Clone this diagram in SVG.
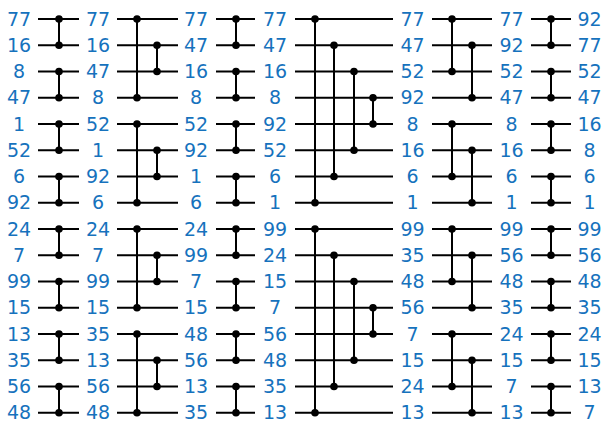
<svg xmlns="http://www.w3.org/2000/svg" xmlns:xlink="http://www.w3.org/1999/xlink" width="605" height="424" viewBox="0 0 605 424">
<style>
.w{stroke:#000;stroke-width:2;fill:none}
.c{stroke:#000;stroke-width:2}
.t{font-family:"DejaVu Sans",Verdana,sans-serif;font-size:19px;fill:#1672bd;text-anchor:middle}
</style>
<defs><circle id="d" r="3.8" fill="#000"/></defs>
<rect width="605" height="424" fill="#fff"/>
<g id="wires" class="w">
<path d="M38 19H79M38 45.25H79M38 71.5H79M38 97.75H79M38 124H79M38 150.25H79M38 176.5H79M38 202.75H79M38 229H79M38 255.25H79M38 281.5H79M38 307.75H79M38 334H79M38 360.25H79M38 386.5H79M38 412.75H79"/>
<path d="M117 19H178M117 45.25H178M117 71.5H178M117 97.75H178M117 124H178M117 150.25H178M117 176.5H178M117 202.75H178M117 229H178M117 255.25H178M117 281.5H178M117 307.75H178M117 334H178M117 360.25H178M117 386.5H178M117 412.75H178"/>
<path d="M216 19H255M216 45.25H255M216 71.5H255M216 97.75H255M216 124H255M216 150.25H255M216 176.5H255M216 202.75H255M216 229H255M216 255.25H255M216 281.5H255M216 307.75H255M216 334H255M216 360.25H255M216 386.5H255M216 412.75H255"/>
<path d="M295 19H393M295 45.25H393M295 71.5H393M295 97.75H393M295 124H393M295 150.25H393M295 176.5H393M295 202.75H393M295 229H393M295 255.25H393M295 281.5H393M295 307.75H393M295 334H393M295 360.25H393M295 386.5H393M295 412.75H393"/>
<path d="M432 19H492M432 45.25H492M432 71.5H492M432 97.75H492M432 124H492M432 150.25H492M432 176.5H492M432 202.75H492M432 229H492M432 255.25H492M432 281.5H492M432 307.75H492M432 334H492M432 360.25H492M432 386.5H492M432 412.75H492"/>
<path d="M531 19H571M531 45.25H571M531 71.5H571M531 97.75H571M531 124H571M531 150.25H571M531 176.5H571M531 202.75H571M531 229H571M531 255.25H571M531 281.5H571M531 307.75H571M531 334H571M531 360.25H571M531 386.5H571M531 412.75H571"/>
</g>
<g id="comparators" class="c">
<path d="M59 19V45.25M59 71.5V97.75M59 124V150.25M59 176.5V202.75M59 229V255.25M59 281.5V307.75M59 334V360.25M59 386.5V412.75"/>
<path d="M137 19V97.75M137 124V202.75M137 229V307.75M137 334V412.75M157 45.25V71.5M157 150.25V176.5M157 255.25V281.5M157 360.25V386.5"/>
<path d="M236 19V45.25M236 71.5V97.75M236 124V150.25M236 176.5V202.75M236 229V255.25M236 281.5V307.75M236 334V360.25M236 386.5V412.75"/>
<path d="M315 19V202.75M315 229V412.75M334 45.25V176.5M334 255.25V386.5M354 71.5V150.25M354 281.5V360.25M373 97.75V124M373 307.75V334"/>
<path d="M452 19V71.5M452 124V176.5M452 229V281.5M452 334V386.5M472 45.25V97.75M472 150.25V202.75M472 255.25V307.75M472 360.25V412.75"/>
<path d="M551 19V45.25M551 71.5V97.75M551 124V150.25M551 176.5V202.75M551 229V255.25M551 281.5V307.75M551 334V360.25M551 386.5V412.75"/>
</g>
<g id="dots">
<g id="s1"><use href="#d" x="59" y="19"/><use href="#d" x="59" y="45.25"/><use href="#d" x="59" y="71.5"/><use href="#d" x="59" y="97.75"/><use href="#d" x="59" y="124"/><use href="#d" x="59" y="150.25"/><use href="#d" x="59" y="176.5"/><use href="#d" x="59" y="202.75"/><use href="#d" x="59" y="229"/><use href="#d" x="59" y="255.25"/><use href="#d" x="59" y="281.5"/><use href="#d" x="59" y="307.75"/><use href="#d" x="59" y="334"/><use href="#d" x="59" y="360.25"/><use href="#d" x="59" y="386.5"/><use href="#d" x="59" y="412.75"/></g>
<g id="s2"><use href="#d" x="137" y="19"/><use href="#d" x="137" y="97.75"/><use href="#d" x="137" y="124"/><use href="#d" x="137" y="202.75"/><use href="#d" x="137" y="229"/><use href="#d" x="137" y="307.75"/><use href="#d" x="137" y="334"/><use href="#d" x="137" y="412.75"/><use href="#d" x="157" y="45.25"/><use href="#d" x="157" y="71.5"/><use href="#d" x="157" y="150.25"/><use href="#d" x="157" y="176.5"/><use href="#d" x="157" y="255.25"/><use href="#d" x="157" y="281.5"/><use href="#d" x="157" y="360.25"/><use href="#d" x="157" y="386.5"/></g>
<g id="s3"><use href="#d" x="236" y="19"/><use href="#d" x="236" y="45.25"/><use href="#d" x="236" y="71.5"/><use href="#d" x="236" y="97.75"/><use href="#d" x="236" y="124"/><use href="#d" x="236" y="150.25"/><use href="#d" x="236" y="176.5"/><use href="#d" x="236" y="202.75"/><use href="#d" x="236" y="229"/><use href="#d" x="236" y="255.25"/><use href="#d" x="236" y="281.5"/><use href="#d" x="236" y="307.75"/><use href="#d" x="236" y="334"/><use href="#d" x="236" y="360.25"/><use href="#d" x="236" y="386.5"/><use href="#d" x="236" y="412.75"/></g>
<g id="s4"><use href="#d" x="315" y="19"/><use href="#d" x="315" y="202.75"/><use href="#d" x="315" y="229"/><use href="#d" x="315" y="412.75"/><use href="#d" x="334" y="45.25"/><use href="#d" x="334" y="176.5"/><use href="#d" x="334" y="255.25"/><use href="#d" x="334" y="386.5"/><use href="#d" x="354" y="71.5"/><use href="#d" x="354" y="150.25"/><use href="#d" x="354" y="281.5"/><use href="#d" x="354" y="360.25"/><use href="#d" x="373" y="97.75"/><use href="#d" x="373" y="124"/><use href="#d" x="373" y="307.75"/><use href="#d" x="373" y="334"/></g>
<g id="s5"><use href="#d" x="452" y="19"/><use href="#d" x="452" y="71.5"/><use href="#d" x="452" y="124"/><use href="#d" x="452" y="176.5"/><use href="#d" x="452" y="229"/><use href="#d" x="452" y="281.5"/><use href="#d" x="452" y="334"/><use href="#d" x="452" y="386.5"/><use href="#d" x="472" y="45.25"/><use href="#d" x="472" y="97.75"/><use href="#d" x="472" y="150.25"/><use href="#d" x="472" y="202.75"/><use href="#d" x="472" y="255.25"/><use href="#d" x="472" y="307.75"/><use href="#d" x="472" y="360.25"/><use href="#d" x="472" y="412.75"/></g>
<g id="s6"><use href="#d" x="551" y="19"/><use href="#d" x="551" y="45.25"/><use href="#d" x="551" y="71.5"/><use href="#d" x="551" y="97.75"/><use href="#d" x="551" y="124"/><use href="#d" x="551" y="150.25"/><use href="#d" x="551" y="176.5"/><use href="#d" x="551" y="202.75"/><use href="#d" x="551" y="229"/><use href="#d" x="551" y="255.25"/><use href="#d" x="551" y="281.5"/><use href="#d" x="551" y="307.75"/><use href="#d" x="551" y="334"/><use href="#d" x="551" y="360.25"/><use href="#d" x="551" y="386.5"/><use href="#d" x="551" y="412.75"/></g>
</g>
<g id="col0" class="t">
<text x="19" y="25.5">77</text><text x="19" y="51.75">16</text><text x="19" y="78">8</text><text x="19" y="104.25">47</text><text x="19" y="130.5">1</text><text x="19" y="156.75">52</text><text x="19" y="183">6</text><text x="19" y="209.25">92</text><text x="19" y="235.5">24</text><text x="19" y="261.75">7</text><text x="19" y="288">99</text><text x="19" y="314.25">15</text><text x="19" y="340.5">13</text><text x="19" y="366.75">35</text><text x="19" y="393">56</text><text x="19" y="419.25">48</text>
</g>
<g id="col1" class="t">
<text x="98" y="25.5">77</text><text x="98" y="51.75">16</text><text x="98" y="78">47</text><text x="98" y="104.25">8</text><text x="98" y="130.5">52</text><text x="98" y="156.75">1</text><text x="98" y="183">92</text><text x="98" y="209.25">6</text><text x="98" y="235.5">24</text><text x="98" y="261.75">7</text><text x="98" y="288">99</text><text x="98" y="314.25">15</text><text x="98" y="340.5">35</text><text x="98" y="366.75">13</text><text x="98" y="393">56</text><text x="98" y="419.25">48</text>
</g>
<g id="col2" class="t">
<text x="196" y="25.5">77</text><text x="196" y="51.75">47</text><text x="196" y="78">16</text><text x="196" y="104.25">8</text><text x="196" y="130.5">52</text><text x="196" y="156.75">92</text><text x="196" y="183">1</text><text x="196" y="209.25">6</text><text x="196" y="235.5">24</text><text x="196" y="261.75">99</text><text x="196" y="288">7</text><text x="196" y="314.25">15</text><text x="196" y="340.5">48</text><text x="196" y="366.75">56</text><text x="196" y="393">13</text><text x="196" y="419.25">35</text>
</g>
<g id="col3" class="t">
<text x="275" y="25.5">77</text><text x="275" y="51.75">47</text><text x="275" y="78">16</text><text x="275" y="104.25">8</text><text x="275" y="130.5">92</text><text x="275" y="156.75">52</text><text x="275" y="183">6</text><text x="275" y="209.25">1</text><text x="275" y="235.5">99</text><text x="275" y="261.75">24</text><text x="275" y="288">15</text><text x="275" y="314.25">7</text><text x="275" y="340.5">56</text><text x="275" y="366.75">48</text><text x="275" y="393">35</text><text x="275" y="419.25">13</text>
</g>
<g id="col4" class="t">
<text x="412.5" y="25.5">77</text><text x="412.5" y="51.75">47</text><text x="412.5" y="78">52</text><text x="412.5" y="104.25">92</text><text x="412.5" y="130.5">8</text><text x="412.5" y="156.75">16</text><text x="412.5" y="183">6</text><text x="412.5" y="209.25">1</text><text x="412.5" y="235.5">99</text><text x="412.5" y="261.75">35</text><text x="412.5" y="288">48</text><text x="412.5" y="314.25">56</text><text x="412.5" y="340.5">7</text><text x="412.5" y="366.75">15</text><text x="412.5" y="393">24</text><text x="412.5" y="419.25">13</text>
</g>
<g id="col5" class="t">
<text x="511.5" y="25.5">77</text><text x="511.5" y="51.75">92</text><text x="511.5" y="78">52</text><text x="511.5" y="104.25">47</text><text x="511.5" y="130.5">8</text><text x="511.5" y="156.75">16</text><text x="511.5" y="183">6</text><text x="511.5" y="209.25">1</text><text x="511.5" y="235.5">99</text><text x="511.5" y="261.75">56</text><text x="511.5" y="288">48</text><text x="511.5" y="314.25">35</text><text x="511.5" y="340.5">24</text><text x="511.5" y="366.75">15</text><text x="511.5" y="393">7</text><text x="511.5" y="419.25">13</text>
</g>
<g id="col6" class="t">
<text x="589.5" y="25.5">92</text><text x="589.5" y="51.75">77</text><text x="589.5" y="78">52</text><text x="589.5" y="104.25">47</text><text x="589.5" y="130.5">16</text><text x="589.5" y="156.75">8</text><text x="589.5" y="183">6</text><text x="589.5" y="209.25">1</text><text x="589.5" y="235.5">99</text><text x="589.5" y="261.75">56</text><text x="589.5" y="288">48</text><text x="589.5" y="314.25">35</text><text x="589.5" y="340.5">24</text><text x="589.5" y="366.75">15</text><text x="589.5" y="393">13</text><text x="589.5" y="419.25">7</text>
</g>
</svg>
